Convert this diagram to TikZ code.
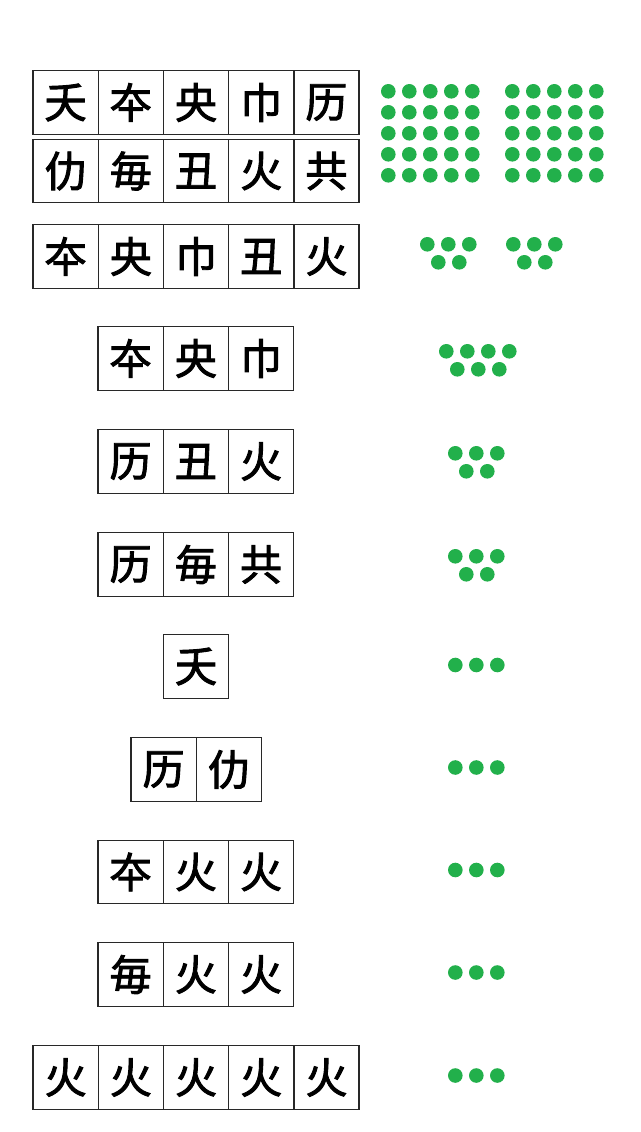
\documentclass[tikz,border=0pt]{standalone}
\usepackage{fontspec}
\newfontfamily\cjk[FakeBold=2.2]{Noto Sans CJK SC}
\definecolor{dotgreen}{RGB}{34,176,75}
\definecolor{cellline}{RGB}{40,40,40}
\tikzset{
  cell/.style={draw=cellline, line width=1.4pt, minimum width=65.2pt, minimum height=63.5pt,
    inner sep=0pt, fill=white, font=\cjk\fontsize{42}{42}\selectfont},
  dotfill/.style={fill=dotgreen}
}
\newcommand\charrow[4]{%
  \foreach \ch [count=\i] in {#4} {\node[cell] (#1c\i) at ({#2+32.6+65.2*(\i-1)}, #3) {\ch};}}
\newcommand\dotline[3]{%
  \foreach \xx in {#3} {\fill[dotfill] (\xx,#2) circle (7.3pt);}}
\begin{document}
\begin{tikzpicture}[x=1pt,y=-1pt]
\useasboundingbox[fill=white] (0,0) rectangle (640,1132);
% character rows
\charrow{ra}{33}{102.5}{夭,夲,央,巾,历}
\charrow{rb}{33}{171}{仂,毎,丑,火,共}
\charrow{rc}{33}{256.5}{夲,央,巾,丑,火}
\charrow{rd}{98}{358.5}{夲,央,巾}
\charrow{re}{98}{461.5}{历,丑,火}
\charrow{rf}{98}{564.5}{历,毎,共}
\charrow{rg}{163.5}{666.5}{夭}
\charrow{rh}{131}{769.5}{历,仂}
\charrow{ri}{98}{872}{夲,火,火}
\charrow{rj}{98}{974.5}{毎,火,火}
\charrow{rk}{33}{1077.5}{火,火,火,火,火}
% dot groups
\foreach \r in {0,...,4} {
  \foreach \c in {0,...,4} {
    \fill[dotfill] ({388.3+21*\c},{91.3+21*\r}) circle (7.3pt);
    \fill[dotfill] ({512.3+21*\c},{91.3+21*\r}) circle (7.3pt);
  }
}
\dotline{}{244.3}{427.3,448.3,469.3,513.3,534.3,555.3}
\dotline{}{262.3}{438.3,459.3,524.3,545.3}
\dotline{}{351.3}{446.3,467.3,488.3,509.3}
\dotline{}{369.3}{457.3,478.3,499.3}
\dotline{}{453.3}{455.3,476.3,497.3}
\dotline{}{471.3}{466.3,487.3}
\dotline{}{556.3}{455.3,476.3,497.3}
\dotline{}{574.3}{466.3,487.3}
\dotline{}{665}{455.3,476.3,497.3}
\dotline{}{767.5}{455.3,476.3,497.3}
\dotline{}{870}{455.3,476.3,497.3}
\dotline{}{972.5}{455.3,476.3,497.3}
\dotline{}{1075.5}{455.3,476.3,497.3}
\end{tikzpicture}
\end{document}
